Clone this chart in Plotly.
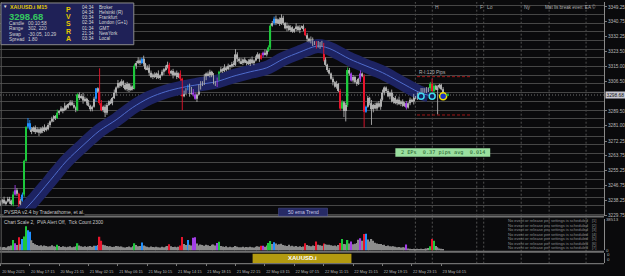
import plotly.graph_objects as go

W, H = 625, 276

# ---------------- data ----------------
open0 = 3235.5
close = [
    3237.0, 3238.5, 3236.5, 3237.5, 3239.0, 3238.0, 3236.0, 3241.5, 3244.0, 3242.0,
    3236.0, 3238.0, 3241.5, 3261.0, 3280.5, 3282.5, 3279.0, 3278.0, 3280.0, 3277.5,
    3279.0, 3277.0, 3279.5, 3278.0, 3280.0, 3279.0, 3281.5, 3283.5, 3285.0, 3286.5,
    3285.5, 3288.5, 3289.5, 3291.0, 3290.0, 3292.5, 3291.5, 3293.5, 3294.5, 3293.0,
    3291.5, 3290.0, 3299.0, 3297.0, 3298.0, 3295.5, 3296.5, 3294.0, 3292.5, 3290.5,
    3292.0, 3296.5, 3302.5, 3300.5, 3294.0, 3290.0, 3292.0, 3288.5, 3293.0, 3295.0,
    3294.0, 3297.0, 3300.0, 3303.0, 3305.5, 3304.0, 3306.5, 3304.5, 3302.0, 3305.0,
    3301.5, 3303.5, 3302.5, 3315.5, 3317.0, 3318.5, 3317.0, 3319.5, 3316.5, 3313.5,
    3314.5, 3311.5, 3309.0, 3310.5, 3309.0, 3311.0, 3308.5, 3310.0, 3312.0, 3313.5,
    3314.5, 3316.0, 3311.0, 3312.5, 3310.0, 3311.5, 3309.0, 3311.0, 3308.0, 3298.0,
    3300.0, 3302.0, 3304.0, 3299.5, 3301.5, 3299.0, 3296.5, 3299.0, 3303.0, 3306.0,
    3305.0, 3309.0, 3311.0, 3310.0, 3312.0, 3309.5, 3306.0, 3304.5, 3307.5, 3312.0,
    3313.5, 3312.5, 3314.5, 3313.5, 3315.5, 3315.0, 3316.5, 3316.0, 3322.0, 3319.5,
    3318.0, 3317.0, 3319.0, 3317.5, 3318.0, 3316.5, 3319.0, 3317.0, 3318.5, 3320.0,
    3322.0, 3319.5, 3321.5, 3323.0, 3322.0, 3324.0, 3326.0, 3338.5, 3340.0, 3342.5,
    3340.0, 3342.0, 3339.5, 3343.0, 3340.0, 3337.0, 3338.5, 3336.0, 3337.5, 3335.0,
    3336.5, 3338.0, 3336.0, 3337.5, 3338.0, 3336.5, 3333.0, 3331.0, 3329.5, 3330.5,
    3328.0, 3329.0, 3326.5, 3328.5, 3327.0, 3328.0, 3319.0, 3316.0, 3313.0, 3311.0,
    3308.0, 3306.0, 3303.5, 3305.0, 3301.0, 3291.0, 3294.5, 3289.5, 3293.0, 3313.0,
    3311.0, 3307.0, 3309.0, 3306.0, 3305.0, 3308.0, 3311.0, 3309.5, 3289.0, 3292.0,
    3297.0, 3294.0, 3290.5, 3293.0, 3291.0, 3294.0, 3292.0, 3296.0, 3300.0, 3303.0,
    3301.0, 3298.0, 3300.0, 3295.0, 3297.0, 3294.0, 3296.0, 3293.5, 3295.0, 3292.5,
    3294.0, 3291.5, 3294.0, 3296.0, 3295.0, 3297.5, 3297.0, 3299.0, 3300.0, 3301.5,
    3300.5, 3302.0, 3301.0, 3302.5, 3305.0, 3301.0, 3304.0, 3302.0, 3303.0, 3304.5,
    3302.0, 3298.68,
]
# wick lengths (units of 0.6 $) read by eye
upper_wick = ("2131221312" "1221013212" "2112312121" "1312131122" "2112232131"
              "1201231221" "2131312122" "1212232131" "2321213121" "2321212131"
              "2112312131" "1312213121" "2131212312" "1312121312" "2121312122"
              "3121213121" "1312121213" "2112131212" "1213122121" "2121213121"
              "2131212131" "1213121312" "1212131212" "2121232121" "12")
lower_wick = ("1212131212" "2112121312" "1312121213" "2121312121" "1212131212"
              "2131212121" "1213121312" "2121312121" "1312121213" "2121312121"
              "1213121312" "2131212121" "1212131213" "2121312121" "1312121212"
              "2121213121" "1213121312" "2121312121" "1312121212" "2121213121"
              "1213121312" "2131212121" "1212131212" "2121312121" "12")
high_override = {8: 3247.0, 15: 3285.5, 54: 3314.0, 128: 3325.0, 147: 3339.5,
                 153: 3345.0, 189: 3314.5, 235: 3308.0}
low_override = {10: 3234.5, 57: 3286.0, 99: 3290.0, 176: 3318.0, 187: 3286.0,
                188: 3283.5, 198: 3280.0, 202: 3281.5, 238: 3287.5}

green_bars = [7, 13, 14, 31, 42, 73, 119, 146, 147, 186, 189, 234, 236]
red_bars = [10, 54, 55, 92, 98, 99, 142, 166, 172, 176, 185, 198, 235]
blue_bars = [12, 15, 16, 52, 77, 102, 149, 199]
purple_bars = [8, 105, 106, 118, 143, 191, 196, 221]

volume_k = [
    4.5, 3.8, 4.2, 3.5, 4.8, 5.2, 6.0, 12.8, 8.8, 6.5,
    16.0, 7.5, 14.0, 17.0, 29.6, 24.8, 22.8, 12.5, 9.0, 7.5,
    6.5, 5.8, 6.2, 5.0, 6.0, 5.5, 4.8, 5.2, 6.4, 5.0,
    4.6, 6.8, 5.5, 4.2, 5.0, 4.4, 3.8, 4.6, 5.2, 4.0,
    4.5, 5.0, 8.8, 6.0, 5.2, 4.6, 5.0, 4.2, 4.8, 5.5,
    4.6, 5.8, 5.6, 6.5, 16.8, 12.0, 7.0, 6.2, 5.5, 4.8,
    5.0, 4.2, 4.6, 5.5, 5.0, 4.4, 4.8, 4.0, 3.6, 4.2,
    4.8, 4.0, 5.2, 8.8, 6.5, 5.0, 5.5, 9.6, 6.0, 5.0,
    4.4, 4.0, 4.8, 4.2, 3.8, 4.5, 4.0, 3.6, 4.4, 4.0,
    4.8, 5.5, 7.5, 5.0, 4.2, 4.6, 3.8, 4.4, 6.0, 16.5,
    8.0, 6.5, 12.8, 7.0, 6.0, 15.5, 16.0, 8.5, 6.0, 7.2,
    6.5, 5.8, 7.0, 6.2, 5.5, 6.8, 7.2, 6.0, 9.0, 10.5,
    5.5, 4.8, 4.2, 5.0, 4.0, 4.5, 3.8, 4.2, 5.5, 4.6,
    4.0, 3.8, 4.4, 3.6, 4.2, 3.8, 4.5, 4.0, 3.6, 4.6,
    5.0, 4.4, 5.6, 5.8, 4.6, 6.0, 9.0, 11.5, 8.0, 10.0,
    8.5, 7.0, 7.5, 8.2, 6.5, 6.0, 5.5, 6.8, 5.2, 5.8,
    4.8, 5.5, 4.5, 5.0, 4.2, 4.8, 8.8, 6.5, 5.8, 5.2,
    6.0, 5.5, 11.0, 7.0, 6.4, 5.8, 8.5, 7.5, 6.8, 7.0,
    6.2, 5.6, 6.0, 5.2, 6.5, 9.0, 14.0, 8.0, 7.5, 12.8,
    8.5, 11.0, 7.5, 8.2, 9.0, 13.0, 15.0, 12.0, 20.0, 20.5,
    13.5, 11.0, 14.0, 12.0, 9.5, 8.5, 7.8, 8.0, 6.5, 7.0,
    5.5, 6.0, 5.0, 4.8, 5.2, 4.4, 3.8, 4.2, 3.6, 4.0,
    3.5, 7.2, 2.5, 2.0, 1.8, 2.2, 1.6, 2.0, 1.8, 2.2,
    1.6, 2.0, 2.4, 3.0, 5.0, 14.0, 12.0, 5.5, 4.0, 2.5,
    2.0, 1.2,
]
volume_max = 38.513  # thousands

ema_idx = [1, 15, 27, 36, 45, 54, 63, 72, 81, 90, 99, 108, 118, 126, 136, 145,
           154, 163, 172, 177, 181, 190, 199, 208, 217, 228, 233]
ema_val = [3221.3, 3234.8, 3249.5, 3260.8, 3269.8, 3278.2, 3284.4, 3291.5, 3297.0,
           3300.6, 3303.0, 3304.7, 3306.4, 3309.2, 3312.0, 3314.3, 3319.4, 3323.3,
           3326.7, 3326.1, 3324.5, 3319.4, 3315.4, 3311.5, 3306.4, 3300.2, 3298.5]

time_ticks = [0, 16, 32, 48, 64, 80, 96, 112, 128, 144, 160, 176, 192, 208, 224, 240]
time_labels = ["20 May 2025", "20 May 17:15", "20 May 21:15", "21 May 02:15",
               "21 May 06:15", "21 May 10:15", "21 May 14:15", "21 May 18:15",
               "21 May 22:15", "22 May 03:15", "22 May 07:15", "22 May 11:15",
               "22 May 15:15", "22 May 19:15", "22 May 23:15", "23 May 04:15"]
price_ticks = [3349.25, 3340.75, 3332.25, 3323.50, 3315.00, 3306.50, 3289.50,
               3281.00, 3272.25, 3263.75, 3255.25, 3246.75, 3238.25, 3229.75]
current_price = 3298.68
session_idx = [225.9, 235.1, 259.3, 263.1, 283.5, 298.7, 318.8]
session_names = {235.1: "H", 259.3: "F", 263.1: "Lo", 283.5: "Ny"}
range_lines = [3309.2, 3287.2]
range_from, range_to = 226.8, 256.3
signal_idx = [229, 235, 241]
signal_price = [3298.0, 3298.0, 3298.0]

clock_times = ["04:34", "04:34", "03:34", "02:34", "01:34", "21:34", "03:34"]
clock_names = ["Broker", "Helsinki (R)", "Frankfurt", "London (G+1)", "GMT", "NewYork", "Local"]
info_labels = ["Candle", "Range", "Swap", "Spread"]
info_values = ["00:10:58", "302, 220", "-30.05, 10.29", "1.80"]

# ---------------- styling ----------------
BG = "#0a0a0c"
FONT = "Liberation Sans"
COL = {"n": "#b0b0b0", "g": "#1ec83c", "r": "#e8142c", "b": "#2090ff", "p": "#a23ee6"}
VCOL_N = "#8c8c8c"

N = len(close)
kind = ["n"] * N
for lst, k in ((green_bars, "g"), (red_bars, "r"), (blue_bars, "b"), (purple_bars, "p")):
    for i in lst:
        kind[i] = k

opens = [open0] + close[:-1]
highs, lows = [], []
for i in range(N):
    o, c = opens[i], close[i]
    highs.append(high_override.get(i, max(o, c) + 0.6 * int(upper_wick[i])))
    lows.append(low_override.get(i, min(o, c) - 0.6 * int(lower_wick[i])))

idx = list(range(N))

# pixel helpers for layout geometry
def px(x):
    return x / W

def py(y):
    return 1 - y / H

X_RIGHT = 605
per_bar = 1.84
x0_bar = 0.4
xr = [(0 - x0_bar) / per_bar, (X_RIGHT - x0_bar) / per_bar]
p_per_px = 0.5637
y_top = 3352.07
yr = [y_top - 218 * p_per_px, y_top]

fig = go.Figure()

# EMA band
fig.add_trace(go.Scatter(x=ema_idx, y=ema_val, mode="lines", xaxis="x", yaxis="y",
                         line=dict(color="#1d2362", width=14, shape="spline", smoothing=0.9),
                         hoverinfo="skip"))
fig.add_trace(go.Scatter(x=ema_idx, y=ema_val, mode="lines", xaxis="x", yaxis="y",
                         line=dict(color="#4f6ccc", width=1, shape="spline", smoothing=0.9),
                         hoverinfo="skip"))

# wicks per colour
for k, col in COL.items():
    wx, wy = [], []
    for i in idx:
        if kind[i] == k:
            wx += [i, i, None]
            wy += [lows[i], highs[i], None]
    fig.add_trace(go.Scatter(x=wx, y=wy, mode="lines", xaxis="x", yaxis="y",
                             line=dict(color=col, width=0.9), hoverinfo="skip"))

# bodies
base = [min(opens[i], close[i]) for i in idx]
hgt = [max(abs(close[i] - opens[i]), 0.35) for i in idx]
fig.add_trace(go.Bar(x=idx, y=hgt, base=base, width=0.72, xaxis="x", yaxis="y",
                     marker=dict(color=[COL[k] for k in kind], line=dict(width=0))))

# signal markers
fig.add_trace(go.Scatter(x=signal_idx[:2], y=signal_price[:2], mode="markers", xaxis="x", yaxis="y",
                         marker=dict(symbol="circle", size=6, color="#142060",
                                     line=dict(color="#3fdcf0", width=1.5))))
fig.add_trace(go.Scatter(x=signal_idx[2:], y=signal_price[2:], mode="markers", xaxis="x", yaxis="y",
                         marker=dict(symbol="circle", size=7, color="#1a32c8",
                                     line=dict(color="#f0e000", width=1.5))))
fig.add_trace(go.Scatter(x=[signal_idx[2] + 2.5], y=[signal_price[2] + 0.8], mode="markers",
                         xaxis="x", yaxis="y",
                         marker=dict(symbol="square", size=2.5, color="#20a040")))

# volume
fig.add_trace(go.Bar(x=idx, y=volume_k, width=0.72, xaxis="x2", yaxis="y2",
                     marker=dict(color=[VCOL_N if k == "n" else COL[k] for k in kind],
                                 line=dict(width=0))))
# bottom window (empty indicator)
fig.add_trace(go.Scatter(x=[0], y=[0], mode="markers", xaxis="x3", yaxis="y3",
                         marker=dict(size=0.1, color=BG), hoverinfo="skip"))

xdom = [0, px(X_RIGHT)]
axis_font = dict(family=FONT, size=4.7, color="#b8b8b8")
fig.update_layout(
    width=W, height=H, margin=dict(l=0, r=0, t=0, b=0),
    paper_bgcolor=BG, plot_bgcolor=BG, showlegend=False, barmode="overlay",
    xaxis=dict(domain=xdom, range=xr, anchor="y", visible=False),
    xaxis2=dict(domain=xdom, matches="x", anchor="y2", visible=False),
    xaxis3=dict(domain=xdom, matches="x", anchor="y3", showgrid=False, zeroline=False,
                showline=False, tickmode="array", tickvals=time_ticks, ticktext=time_labels,
                ticks="outside", ticklen=2, tickcolor="#7a7a7a",
                tickfont=dict(family=FONT, size=3.9, color="#b8b8b8"),
                tickangle=0, ticklabelshift=13, ticklabelstandoff=2,
                ticklabeloverflow="allow"),
    yaxis=dict(domain=[py(218), 1], range=yr, anchor="x", side="right",
               tickmode="array", tickvals=price_ticks, ticktext=["%.2f" % v for v in price_ticks],
               tickfont=axis_font, ticks="outside", ticklen=2, tickcolor="#7a7a7a",
               showgrid=False, zeroline=False, showline=True, linecolor="#8a8a8a", linewidth=1,
               minor=dict(tickmode="linear", tick0=3230, dtick=5, showgrid=True,
                          gridcolor="#464646", gridwidth=1, ticks="")),
    yaxis2=dict(domain=[py(253), py(221)], range=[0, volume_max], anchor="x2", side="right",
                tickmode="array", tickvals=[volume_max, 0], ticktext=["38513", "0"],
                tickfont=dict(family=FONT, size=4.4, color="#b8b8b8"), ticks="",
                showgrid=False, zeroline=False, showline=True, linecolor="#8a8a8a"),
    yaxis3=dict(domain=[py(266), py(256)], range=[0, 1], anchor="x3", side="right",
                showticklabels=False, ticks="", showgrid=False, zeroline=False,
                showline=True, linecolor="#8a8a8a"),
)

shapes = []
# session dashed lines
for s in session_idx:
    shapes.append(dict(type="line", xref="x", yref="paper", x0=s, x1=s, y0=py(266.5), y1=1,
                       line=dict(color="#505050", width=1, dash="2px,2px"), layer="below"))
# current price dotted
shapes.append(dict(type="line", xref="paper", yref="y", x0=0, x1=px(X_RIGHT),
                   y0=current_price, y1=current_price,
                   line=dict(color="#6e6e6e", width=1, dash="1px,2px"), layer="below"))
# range lines
for lv in range_lines:
    shapes.append(dict(type="line", xref="x", yref="y", x0=range_from, x1=range_to, y0=lv, y1=lv,
                       line=dict(color="#a01818", width=1, dash="3px,2px")))
# separators and borders
for yy, wdt in ((218.5, 2), (254.3, 2), (266.5, 1.2)):
    shapes.append(dict(type="line", xref="paper", yref="paper", x0=0, x1=px(X_RIGHT),
                       y0=py(yy), y1=py(yy), line=dict(color="#707070", width=wdt)))
shapes.append(dict(type="line", xref="paper", yref="paper", x0=px(1.2), x1=px(1.2),
                   y0=py(266.5), y1=py(0), line=dict(color="#5a5a5a", width=1)))
# info panel
shapes.append(dict(type="rect", xref="paper", yref="paper", x0=px(1), x1=px(134),
                   y0=py(43.5), y1=py(1), fillcolor="#1f2157", line=dict(color="#8c8c8c", width=1)))
# EP box
shapes.append(dict(type="rect", xref="paper", yref="paper", x0=px(396), x1=px(491),
                   y0=py(157.5), y1=py(149), fillcolor="#9adf9f", line=dict(width=0)))
# 50 ema trend box
shapes.append(dict(type="rect", xref="paper", yref="paper", x0=px(279), x1=px(328),
                   y0=py(218), y1=py(210), fillcolor="#262a66", line=dict(color="#4a4f90", width=0.6)))
# XAUUSD.i box
shapes.append(dict(type="rect", xref="paper", yref="paper", x0=px(253), x1=px(352),
                   y0=py(265.8), y1=py(256.5), fillcolor="#b39a10", line=dict(width=0)))
fig.update_layout(shapes=shapes)

ann = []

def txt(x, y, s, size=5.0, color="#c8c8c8", xa="left", bold=False, family=FONT, bg=None):
    a = dict(xref="paper", yref="paper", x=px(x), y=py(y), text=("<b>%s</b>" % s) if bold else s,
             showarrow=False, xanchor=xa, yanchor="middle", borderpad=0,
             font=dict(family=family, size=size, color=color))
    if bg:
        a["bgcolor"] = bg
    ann.append(a)

# panel content
txt(2.5, 4.5, "▼", size=4.5, color="#e0e0e0")
txt(9, 5.5, "XAUUSD.i M15", size=5.3, color="#e8d000", bold=True)
txt(8.5, 14.3, "3298.68", size=9.5, color="#35c860", bold=True)
for k, (lab, val) in enumerate(zip(info_labels, info_values)):
    yy = 22 + k * 5.3
    txt(8, yy, lab, size=4.8, color="#d0d0d0")
    txt(27, yy, val, size=4.8, color="#d0d0d0")
for k, ch in enumerate("PVSRA"):
    txt(68.5, 7.5 + k * 7.4, ch, size=7, color="#e6c800", xa="center", bold=True)
for k, (t, nme) in enumerate(zip(clock_times, clock_names)):
    yy = 5.3 + k * 5.3
    txt(81, yy, t, size=4.6, color="#d8d8d8")
    txt(98, yy, nme, size=4.6, color="#d8d8d8")

# session labels
for s, nme in session_names.items():
    ann.append(dict(xref="x", yref="paper", x=s, y=py(5), text=nme, showarrow=False,
                    xanchor="left", yanchor="middle", xshift=1,
                    font=dict(family=FONT, size=5, color="#a8a8a8")))
txt(598, 5, "Mat lis break even: EA ©", size=4.6, color="#b0b0b0", xa="right")

# range label
ann.append(dict(xref="x", yref="y", x=range_from, y=range_lines[0], text="R-I:120 Pips",
                showarrow=False, xanchor="left", yanchor="bottom", xshift=0, yshift=0,
                font=dict(family=FONT, size=4.8, color="#b4b4b4")))
# EP box text
txt(443.5, 153.3, "2 EPs  0.37 pips avg  0.014", size=5.2, color="#1d5a28", xa="center",
    family="DejaVu Sans Mono")
txt(303.5, 214, "50 ema Trend", size=5, color="#c8c8e8", xa="center")
txt(3, 214.3, "PVSRA v2.4 by Traderathome, et al.", size=5, color="#c8c8c8", bg=BG)
txt(3, 224.5, "Chart Scale 2,  PVA Alert Off,  Tick Count 2300", size=4.8, color="#c8c8c8")
for k in range(7):
    yy = 222.7 + k * 4.55
    txt(508, yy, "No event or release per settings is scheduled", size=4, color="#8c8c8c")
    txt(598, yy, "[%d]" % (k + 1), size=4, color="#8c8c8c", xa="right")
txt(302.5, 261.2, "XAUUSD.i", size=6, color="#ffffff", xa="center", bold=True)
txt(607, 257.5, "0", size=4.4, color="#b8b8b8")
txt(607, 262, "0", size=4.4, color="#b8b8b8")
# current price tag
ann.append(dict(xref="paper", yref="y", x=px(X_RIGHT + 0.5), y=current_price, text="3298.68",
                showarrow=False, xanchor="left", yanchor="middle", bgcolor="#c8c8d2",
                borderpad=0.5, font=dict(family=FONT, size=4.8, color="#101010")))
fig.update_layout(annotations=ann)

fig.write_html("out.html")
